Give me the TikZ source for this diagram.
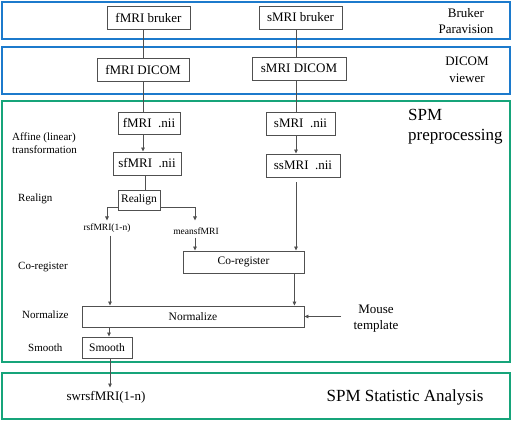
\documentclass[tikz,border=0pt]{standalone}
\usepackage{fontspec}
\setmainfont{Liberation Serif}
\usepackage{xcolor}
\usetikzlibrary{positioning, arrows.meta, calc}
\definecolor{bandblue}{RGB}{28,122,204}
\definecolor{bandgreen}{RGB}{22,164,122}
\definecolor{boxgray}{HTML}{505050}

\begin{document}
\begin{tikzpicture}[x=1pt, y=-1pt,
    procbox/.style={draw=boxgray, line width=0.9pt, inner sep=2pt, minimum height=22pt,
                    font=\fontsize{13}{15}\selectfont},
    smallbox/.style={procbox, font=\fontsize{11.5}{13}\selectfont},
    sidelabel/.style={anchor=west, inner sep=0pt, align=left, font=\fontsize{11}{13}\selectfont},
    datalabel/.style={inner sep=1pt, font=\fontsize{9.5}{11}\selectfont},
    arrowline/.style={draw=boxgray, line width=0.8pt, -{Triangle[length=4pt, width=3.6pt]}},
    plainline/.style={draw=boxgray, line width=0.8pt}]
  \useasboundingbox (0,0) rectangle (512,422);

  % stage bands
  \draw[bandblue, line width=1.7pt] (2,2) rectangle (510,39);
  \draw[bandblue, line width=1.7pt] (2,47) rectangle (510,94);
  \draw[bandgreen, line width=1.4pt] (2,101) rectangle (510,362);
  \draw[bandgreen, line width=1.4pt] (2,373) rectangle (510,419);

  % stage names
  \node[align=center, font=\fontsize{13}{16}\selectfont] (paravision) at (466,21) {Bruker\\Paravision};
  \node[align=center, font=\fontsize{13}{17}\selectfont] (viewer) at (467,70) {DICOM\\viewer};
  \node[anchor=west, align=left, inner sep=0pt, font=\fontsize{17}{20}\selectfont] (spmpre) at (408,127) {SPM\\preprocessing};
  \node[font=\fontsize{17}{20}\selectfont] (spmstat) at (405,397) {SPM Statistic Analysis};

  % step names on the left
  \node[sidelabel] (lblaffine) at (12,143) {Affine (linear)\\transformation};
  \node[sidelabel] (lblrealign) at (18,199) {Realign};
  \node[sidelabel] (lblcoreg) at (18,267) {Co-register};
  \node[sidelabel] (lblnorm) at (22,315) {Normalize};
  \node[sidelabel] (lblsmooth) at (28,348) {Smooth};

  % columns of the two data paths
  \coordinate (fcol) at (143,0);
  \coordinate (scol) at (296,0);

  % boxes
  \node[procbox, minimum width=83pt, minimum height=23pt] (fbruk) at (148.5,17.5) {fMRI bruker};
  \node[procbox, minimum width=83pt, minimum height=23pt] (sbruk) at (300.5,17.5) {sMRI bruker};
  \node[procbox, minimum width=92pt, minimum height=23pt] (fdicom) at (143,69.5) {fMRI DICOM};
  \node[procbox, minimum width=94pt, minimum height=23pt] (sdicom) at (299,68.5) {sMRI DICOM};
  \node[procbox, minimum width=62pt] (fnii) at (149,123.5) {fMRI~~.nii};
  \node[procbox, minimum width=69pt, minimum height=23pt] (snii) at (300.5,123.5) {sMRI~~.nii};
  \node[procbox, minimum width=68pt, minimum height=23pt] (sfnii) at (147,163.5) {sfMRI~~.nii};
  \node[procbox, minimum width=74pt, minimum height=23pt] (ssnii) at (303,165.5) {ssMRI~~.nii};
  \node[smallbox, minimum width=42pt, minimum height=20pt] (realign) at (139,200) {Realign};
  \node[smallbox, minimum width=121pt] (coreg) at (243.5,262) {Co-register};
  \node[smallbox, minimum width=222pt, minimum height=21pt] (normal) at (193,316.5) {Normalize};
  \node[smallbox, minimum width=50pt, minimum height=21pt] (smooth) at (107,347.5) {Smooth};

  % data between the steps
  \node[datalabel] (rsf) at (107,228) {rsfMRI(1-n)};
  \node[datalabel] (meansf) at (196,231) {meansfMRI};
  \node[align=center, font=\fontsize{13}{16}\selectfont] (mouse) at (376,319) {Mouse\\template};
  \node[font=\fontsize{13}{15}\selectfont] (swr) at (106,397) {swrsfMRI(1-n)};

  % connectors
  \draw[plainline] (fbruk.south -| fcol) -- (fdicom.north -| fcol);
  \draw[plainline] (fdicom.south -| fcol) -- (fnii.north -| fcol);
  \draw[plainline] (sbruk.south -| scol) -- (sdicom.north -| scol);
  \draw[plainline] (sdicom.south -| scol) -- (snii.north -| scol);
  \draw[arrowline] (fnii.south -| fcol) -- (sfnii.north -| fcol);
  \draw[arrowline] (snii.south -| scol) -- (ssnii.north -| scol);
  \draw[plainline] ([xshift=2pt]sfnii.south -| fcol) -- ([xshift=2pt]realign.north -| fcol);
  \draw[arrowline] ([yshift=-7pt]realign.west) -| ([yshift=2pt]rsf.north);
  \draw[arrowline] ([yshift=-7pt]realign.east) -| ([xshift=-1pt, yshift=6pt]meansf.north);
  \draw[arrowline] ([xshift=-1pt, yshift=-2pt]meansf.south) -- ([xshift=-1pt]meansf.south |- coreg.north);
  \draw[arrowline, shorten <=5pt] (ssnii.south -| scol) -- (coreg.north -| scol);
  \draw[arrowline] ([xshift=3pt, yshift=-2pt]rsf.south) -- ([xshift=3pt]rsf.south |- normal.north);
  \draw[arrowline] ([xshift=-10pt]coreg.south east) -- ([xshift=-10pt]coreg.south east |- normal.north);
  \draw[arrowline] ([xshift=-9pt]mouse.west |- normal.east) -- (normal.east);
  \draw[arrowline] ([xshift=2pt]smooth.north |- normal.south) -- ([xshift=2pt]smooth.north);
  \draw[arrowline] ([xshift=3pt]smooth.south) -- ([xshift=3pt]smooth.south |- swr.north);
\end{tikzpicture}
\end{document}
